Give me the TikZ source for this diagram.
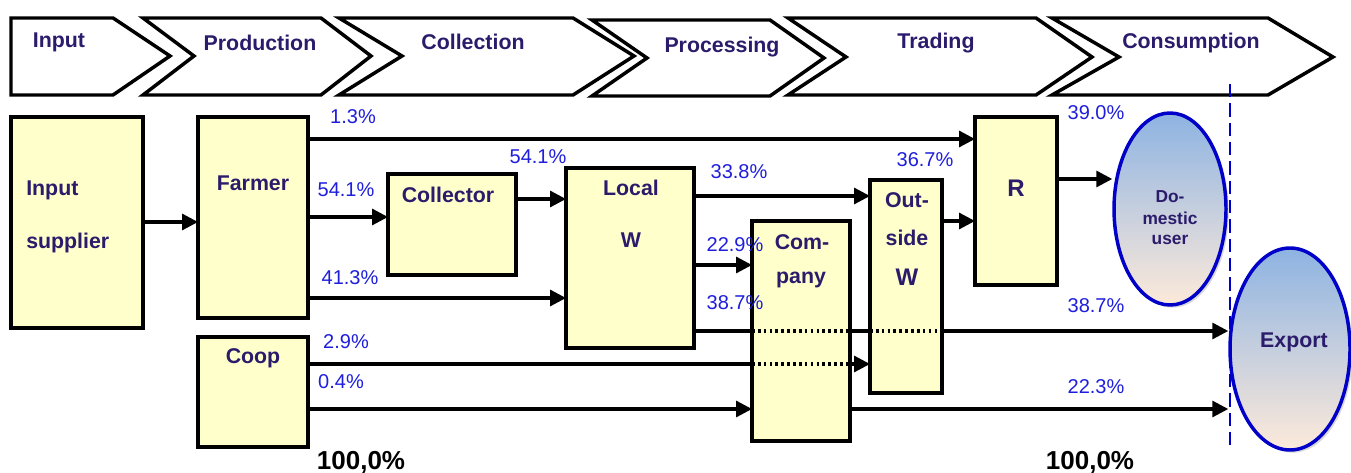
\documentclass[tikz,border=0pt]{standalone}
\usepackage{fontspec}
\setmainfont{Liberation Sans}
\usetikzlibrary{arrows.meta,shapes.geometric,fit,backgrounds,shadows}
\definecolor{ink}{RGB}{43,27,107}
\definecolor{pct}{RGB}{30,30,220}
\definecolor{boxfill}{RGB}{255,255,204}
\definecolor{elblue}{RGB}{0,0,200}
\definecolor{topblue}{RGB}{141,179,226}
\definecolor{botpeach}{RGB}{253,234,218}
\begin{document}
\begin{tikzpicture}[x=0.75pt,y=-0.75pt,
  chev/.style={draw=black,line width=2.6pt,line join=miter},
  hd/.style={font=\bfseries\fontsize{16}{19}\selectfont,text=ink,inner sep=0pt},
  bx/.style={draw=black,line width=2.5pt,fill=boxfill,inner sep=0pt,outer sep=0pt},
  lab/.style={font=\bfseries\fontsize{16}{19}\selectfont,text=ink,inner sep=0pt},
  big/.style={font=\bfseries\fontsize{18}{21}\selectfont,text=ink,inner sep=0pt},
  small/.style={font=\bfseries\fontsize{13}{15}\selectfont,text=ink,inner sep=0pt},
  pc/.style={font=\fontsize{15}{18}\selectfont,text=pct,inner sep=0pt},
  tot/.style={font=\bfseries\fontsize{19.5}{22}\selectfont,text=black,inner sep=0pt},
  flow/.style={line width=2.4pt,-{Triangle[length=12pt,width=12pt]}},
  dots/.style={line width=2.4pt,dash pattern=on 2pt off 2.4pt,line cap=butt},
  oval/.style={ellipse,draw=elblue,line width=2.6pt,top color=topblue,bottom color=botpeach,
    inner sep=0pt,drop shadow={shadow xshift=2pt,shadow yshift=-2pt,opacity=0.3}}]
\useasboundingbox (0,0) rectangle (1351,473);

% chevrons
\draw[chev] (11,18) -- (113,18) -- (170,56) -- (113,95) -- (11,95) -- cycle;
\draw[chev] (143,18) -- (321,18) -- (371,56) -- (321,95) -- (143,95) -- (194,56) -- cycle;
\draw[chev] (339,18) -- (573,18) -- (634,56) -- (573,95) -- (339,95) -- (402,56) -- cycle;
\draw[chev] (592,20) -- (770,20) -- (824,58) -- (770,96) -- (592,96) -- (647,58) -- cycle;
\draw[chev] (788,18) -- (1036,18) -- (1092,57) -- (1036,95) -- (788,95) -- (846,57) -- cycle;
\draw[chev] (1052,18) -- (1268,18) -- (1333,57) -- (1268,95) -- (1052,95) -- (1119,57) -- cycle;
\node[hd] (hInput) at (59,42) {Input};
\node[hd] (hProd) at (260,43) {Production};
\node[hd] (hColl) at (473,42) {Collection};
\node[hd] (hProc) at (722,47) {Processing};
\node[hd] (hTrad) at (936,43) {Trading};
\node[hd] (hCons) at (1191,43) {Consumption};

% boxes
\coordinate (a1) at (11,117); \coordinate (a2) at (143,328);
\node[bx,fit=(a1)(a2)] (inp) {};
\coordinate (b1) at (198,117); \coordinate (b2) at (308,318);
\node[bx,fit=(b1)(b2)] (farmer) {};
\coordinate (c1) at (388,174); \coordinate (c2) at (516,275);
\node[bx,fit=(c1)(c2)] (coll) {};
\coordinate (d1) at (566,168); \coordinate (d2) at (694,348);
\node[bx,fit=(d1)(d2)] (local) {};
\coordinate (e1) at (198,337); \coordinate (e2) at (308,447);
\node[bx,fit=(e1)(e2)] (coop) {};
\coordinate (f1) at (752,221); \coordinate (f2) at (850,441);
\node[bx,fit=(f1)(f2)] (comp) {};
\coordinate (g1) at (870,180); \coordinate (g2) at (942,393);
\node[bx,fit=(g1)(g2)] (outw) {};
\coordinate (h1) at (975,117); \coordinate (h2) at (1057,285);
\node[bx,fit=(h1)(h2)] (ret) {};

% ellipses
\node[oval,minimum width=84pt,minimum height=144pt] (dom) at (1170,209) {};
\node[oval,minimum width=90pt,minimum height=151.5pt] (exp) at (1290,349) {};

% box texts
\node[lab,anchor=west] (tInput) at (26,190) {Input};
\node[lab,anchor=west] (tSupp) at (26,243) {supplier};
\node[lab] (tFarmer) at (253,183) {Farmer};
\node[lab] (tColl) at (448,195) {Collector};
\node[lab] (tLocal) at (631,188) {Local};
\node[lab] (tLW) at (631,240) {W};
\node[lab] (tCoop) at (253,358) {Coop};
\node[lab] (tCom) at (802,242) {Com-};
\node[lab] (tPany) at (801,280) {pany};
\node[lab] (tOut) at (907,200) {Out-};
\node[lab] (tSide) at (907,238) {side};
\node[big] (tOW) at (907,277) {W};
\node[big] (tR) at (1016,188) {R};
\node[small] (tDo) at (1170,197) {Do-};
\node[small] (tMes) at (1170,218) {mestic};
\node[small] (tUser) at (1170,240) {user};
\node[lab] (tExp) at (1294,342) {Export};

% through lines under the boxes
\begin{scope}[on background layer]
\draw[flow] (local.east |- 0,331) -- (exp.west |- 0,331);
\draw[flow] (coop.east |- 0,364) -- (outw.west |- 0,364);
\end{scope}
\draw[dots] (comp.west |- 0,331) -- (comp.east |- 0,331);
\draw[dots] (outw.west |- 0,331) -- (outw.east |- 0,331);
\draw[dots] (comp.west |- 0,364) -- (comp.east |- 0,364);

% flows
\draw[flow] (inp.east |- 0,222) -- (farmer.west |- 0,222);
\draw[flow] (farmer.east |- 0,139) -- (ret.west |- 0,139);
\draw[flow] (farmer.east |- 0,217) -- (coll.west |- 0,217);
\draw[flow] (farmer.east |- 0,298) -- (local.west |- 0,298);
\draw[flow] (coll.east |- 0,199) -- (local.west |- 0,199);
\draw[flow] (local.east |- 0,196) -- (outw.west |- 0,196);
\draw[flow] (local.east |- 0,265) -- (comp.west |- 0,265);
\draw[flow] (outw.east |- 0,221) -- (ret.west |- 0,221);
\draw[flow] (ret.east |- 0,179) -- (dom.west |- 0,179);
\draw[flow] (coop.east |- 0,409) -- (comp.west |- 0,409);
\draw[flow] (comp.east |- 0,409) -- (exp.west |- 0,409);

% dashed border
\coordinate (dTop) at (1230,84);
\coordinate (dBot) at (1230,447);
\draw[elblue,line width=1.5pt,dash pattern=on 10pt off 4.5pt] (dTop) -- (dBot);

% percentages
\node[pc] (p1) at (353,117) {1.3\%};
\node[pc] (p2) at (346,190) {54.1\%};
\node[pc] (p3) at (538,157) {54.1\%};
\node[pc] (p4) at (350,278) {41.3\%};
\node[pc] (p5) at (346,342) {2.9\%};
\node[pc] (p6) at (341,382) {0.4\%};
\node[pc] (p7) at (739,172) {33.8\%};
\node[pc] (p8) at (925,160) {36.7\%};
\node[pc] (p9) at (735,245) {22.9\%};
\node[pc] (p10) at (735,303) {38.7\%};
\node[pc] (p11) at (1096,113) {39.0\%};
\node[pc] (p12) at (1096,306) {38.7\%};
\node[pc] (p13) at (1096,387) {22.3\%};
\node[tot] (s1) at (361,462) {100,0\%};
\node[tot] (s2) at (1090,462) {100,0\%};
\end{tikzpicture}
\end{document}
